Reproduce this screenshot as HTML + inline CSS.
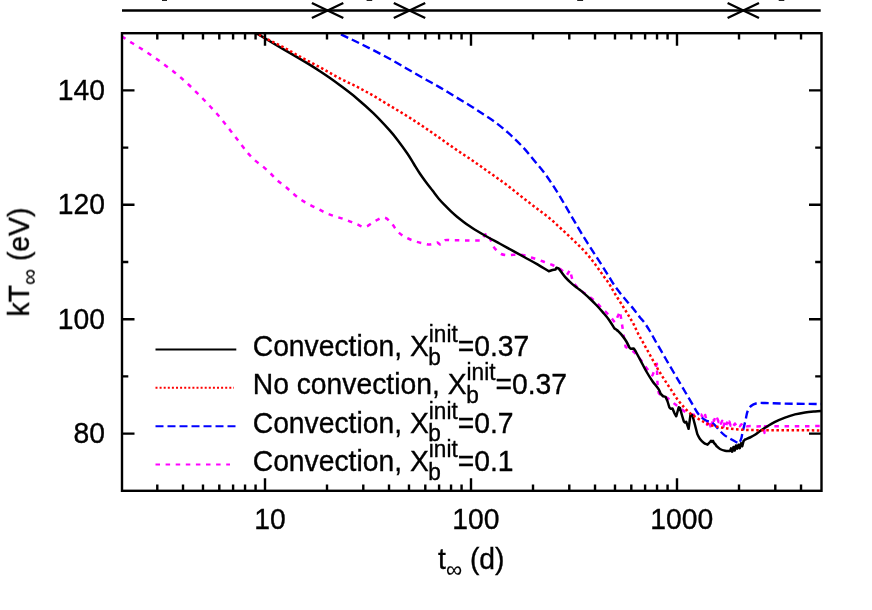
<!DOCTYPE html>
<html><head><meta charset="utf-8"><title>plot</title>
<style>
html,body{margin:0;padding:0;background:#fff;}
svg{display:block;}
text{font-family:"Liberation Sans",sans-serif;fill:#000;stroke:#000;stroke-width:0.35px;}
</style></head><body>
<svg width="872" height="610" viewBox="0 0 872 610">
<rect width="872" height="610" fill="#fff"/>
<defs><clipPath id="c"><rect x="122.0" y="33.2" width="699.5" height="457.6"/></clipPath></defs>
<!-- top arrow line -->
<g stroke="#000" stroke-width="2.4" fill="none">
<path d="M122,10.5 H820.7"/>
<path d="M311.9,3 L343.3,18 M311.9,18 L343.3,3"/>
<path d="M393.8,3 L425.2,18 M393.8,18 L425.2,3"/>
<path d="M727.6,3 L759,18 M727.6,18 L759,3"/>
</g>
<g fill="#222">
<rect x="162" y="0" width="5" height="1"/>
<rect x="366.6" y="0" width="5.6" height="1"/>
<rect x="577.2" y="0" width="5.9" height="1"/>
<rect x="778.7" y="0" width="5.6" height="1"/>
</g>
<!-- curves -->
<g clip-path="url(#c)" fill="none" stroke-linejoin="round">
<path d="M121.70,36.30 C125.13,38.53 128.54,40.81 132.00,43.00 C134.81,44.78 137.69,46.42 140.50,48.20 C143.36,50.01 146.18,51.88 149.00,53.75 C151.81,55.61 154.65,57.45 157.40,59.40 C160.12,61.33 162.73,63.40 165.40,65.40 C168.07,67.40 170.79,69.33 173.40,71.40 C176.09,73.53 178.71,75.75 181.30,78.00 C183.83,80.20 186.32,82.45 188.75,84.75 C191.22,87.08 193.59,89.51 196.00,91.90 C198.37,94.26 200.76,96.60 203.10,99.00 C205.43,101.39 207.72,103.81 210.00,106.25 C212.32,108.73 214.67,111.19 216.90,113.75 C219.03,116.19 221.06,118.73 223.10,121.25 C225.29,123.95 227.46,126.66 229.60,129.40 C231.69,132.08 233.73,134.80 235.80,137.50 C237.83,140.14 239.86,142.77 241.90,145.40 C243.96,148.07 245.88,150.86 248.10,153.40 C250.26,155.87 252.54,158.24 255.00,160.40 C257.55,162.65 260.50,164.41 263.10,166.60 C265.70,168.78 268.16,171.13 270.60,173.50 C272.97,175.80 275.03,178.41 277.50,180.60 C279.98,182.79 282.85,184.49 285.40,186.60 C288.06,188.80 290.46,191.28 293.10,193.50 C295.67,195.66 298.22,197.87 301.00,199.75 C303.78,201.63 306.79,203.16 309.75,204.75 C312.79,206.38 315.92,207.84 319.00,209.40 C321.84,210.84 324.53,212.60 327.50,213.75 C333.22,215.97 339.22,217.43 345.00,219.50 C349.22,221.01 353.30,222.92 357.50,224.50 C359.97,225.43 362.40,227.40 365.00,227.00 C368.32,226.49 370.75,223.52 373.75,222.00 C377.01,220.35 380.10,217.29 383.75,217.50 C386.85,217.68 389.06,220.81 391.25,223.00 C393.69,225.44 395.08,228.79 397.50,231.25 C399.71,233.50 402.26,235.44 405.00,237.00 C408.14,238.80 411.57,240.09 415.00,241.25 C418.26,242.35 421.64,243.02 425.00,243.75 C426.65,244.11 428.32,244.67 430.00,244.50 C432.57,244.24 435.00,243.17 437.50,242.50 L440.00,244.50 C441.67,243.07 442.94,240.98 445.00,240.20 C446.95,239.46 449.17,240.23 451.25,240.25 C461.25,240.36 471.25,240.48 481.25,240.60 L486.25,233.10 C487.50,234.98 488.92,236.76 490.00,238.75 C491.43,241.38 492.30,244.29 493.75,246.90 C494.39,248.06 495.29,249.09 496.25,250.00 C497.80,251.47 499.32,253.10 501.25,254.00 C503.18,254.90 505.38,255.12 507.50,255.25 C509.59,255.38 511.66,254.78 513.75,254.75 C516.67,254.70 519.62,254.55 522.50,255.00 C525.50,255.47 528.35,256.60 531.25,257.50 C535.02,258.68 538.77,259.93 542.50,261.25 C545.86,262.43 549.25,263.54 552.50,265.00 C555.30,266.26 558.08,267.65 560.60,269.40 C562.91,271.00 564.80,273.13 566.90,275.00 L570.00,270.00 C571.03,273.75 571.52,277.70 573.10,281.25 C574.23,283.79 576.03,286.03 578.00,288.00 C580.46,290.46 583.49,292.28 586.25,294.40 C588.96,296.48 591.83,298.35 594.40,300.60 C596.84,302.73 598.96,305.20 601.25,307.50 C603.75,310.00 606.36,312.39 608.75,315.00 C610.95,317.40 612.92,320.00 615.00,322.50 L620.00,311.30 C620.83,316.70 621.69,322.10 622.50,327.50 C622.94,330.41 623.29,333.34 623.75,336.25 C624.32,339.81 624.98,343.35 625.60,346.90 C628.32,348.57 631.35,349.80 633.75,351.90 C636.63,354.42 638.88,357.59 641.25,360.60 C643.06,362.90 644.48,365.47 646.25,367.80 C648.23,370.41 650.42,372.87 652.50,375.40 L656.90,363.75 C657.10,370.20 657.09,376.66 657.50,383.10 C657.71,386.45 658.33,389.77 658.75,393.10 C659.37,393.73 659.83,394.56 660.60,395.00 C662.79,396.25 665.37,396.75 667.50,398.10 C670.01,399.69 672.06,401.92 674.40,403.75 C675.81,404.85 677.31,405.84 678.75,406.90 C681.26,408.75 683.48,411.06 686.25,412.50 C688.64,413.74 691.33,414.46 694.00,414.80 C696.40,415.10 698.83,414.53 701.25,414.40 L702.20,416.80 L703.20,414.30 L704.20,417.30 L705.20,415.00 L706.00,418.30 L707.00,424.80 L708.00,419.50 L709.50,423.00 L711.50,429.40 L713.00,417.50 L714.00,420.80 L715.00,418.00 L716.20,421.20 L717.40,418.60 L718.60,422.00 L719.80,419.60 L721.00,423.60 L722.20,420.80 L723.40,426.80 L724.60,422.40 L725.80,426.40 L727.00,422.60 L728.20,425.80 L729.40,421.60 L730.60,425.60 L732.00,423.20 L733.40,425.80 L735.00,423.60 L736.60,426.00 L738.20,424.00 L739.80,426.20 L741.40,424.20 L743.00,426.20 L744.60,424.60 L746.50,426.30 C748.00,426.20 749.50,425.98 751.00,426.00 C752.34,426.02 753.66,426.38 755.00,426.40 C758.00,426.45 761.00,426.27 764.00,426.20 L764.50,433.00 L765.00,426.20 C767.33,426.23 769.67,426.30 772.00,426.30 C788.33,426.27 804.67,426.16 821.00,426.10 C822.67,426.09 824.33,426.10 826.00,426.10" stroke="#f0f" stroke-width="2.5" stroke-dasharray="4.5 5.7"/>
<path d="M330.00,29.50 C332.67,30.67 335.37,31.76 338.00,33.00 C346.37,36.93 354.73,40.88 363.00,45.00 C371.46,49.21 379.88,53.51 388.20,58.00 C394.39,61.34 400.40,65.00 406.50,68.50 C412.03,71.67 417.56,74.85 423.10,78.00 C428.66,81.15 434.28,84.18 439.80,87.40 C445.38,90.65 450.87,94.07 456.40,97.40 C461.93,100.73 467.52,103.98 473.00,107.40 C476.39,109.51 479.67,111.79 483.00,114.00 C487.01,116.66 491.15,119.12 495.00,122.00 C499.49,125.36 503.83,128.95 508.00,132.70 C513.17,137.35 518.23,142.14 523.00,147.20 C526.82,151.25 530.20,155.71 533.75,160.00 C537.53,164.57 541.50,169.01 545.00,173.80 C549.42,179.85 553.52,186.14 557.50,192.50 C561.86,199.47 565.83,206.67 570.00,213.75 C574.17,220.83 578.21,227.99 582.50,235.00 C586.75,241.94 591.21,248.75 595.60,255.60 C597.88,259.16 600.23,262.68 602.50,266.25 C604.61,269.57 606.67,272.92 608.75,276.25 C610.83,279.58 612.77,283.01 615.00,286.25 C616.94,289.07 619.11,291.73 621.25,294.40 C623.28,296.94 625.40,299.41 627.50,301.90 C629.57,304.35 631.75,306.70 633.75,309.20 C635.92,311.90 637.84,314.79 640.00,317.50 C641.18,318.98 642.64,320.22 643.75,321.75 C645.98,324.82 648.04,328.00 650.00,331.25 C652.21,334.92 654.12,338.78 656.25,342.50 C658.29,346.06 660.44,349.55 662.50,353.10 C664.19,356.02 665.81,358.98 667.50,361.90 C669.56,365.45 671.67,368.97 673.75,372.50 C675.83,376.03 677.92,379.56 680.00,383.10 C682.09,386.65 684.17,390.20 686.25,393.75 C688.33,397.30 690.38,400.87 692.50,404.40 C694.54,407.79 696.27,411.41 698.75,414.50 C700.49,416.67 702.65,418.53 705.00,420.00 C707.29,421.43 710.23,421.63 712.50,423.10 C714.48,424.38 715.87,426.40 717.50,428.10 C718.71,429.36 719.76,430.76 721.00,432.00 C722.27,433.27 723.55,434.55 725.00,435.60 C726.56,436.73 728.33,437.53 730.00,438.50 C732.00,439.66 733.95,440.93 736.00,442.00 C737.09,442.57 738.27,442.93 739.40,443.40 C740.07,441.60 740.87,439.85 741.40,438.00 C741.91,436.20 742.08,434.32 742.50,432.50 C743.48,428.32 744.61,424.18 745.60,420.00 C746.27,417.18 746.46,414.21 747.50,411.50 C748.28,409.47 749.36,407.43 751.00,406.00 C752.66,404.55 754.84,403.66 757.00,403.20 C759.61,402.64 762.33,402.96 765.00,403.00 C771.67,403.10 778.33,403.48 785.00,403.60 C797.00,403.81 809.00,403.88 821.00,404.00 C822.67,404.02 824.33,404.00 826.00,404.00" stroke="#00f" stroke-width="2.4" stroke-dasharray="8 4"/>
<path d="M248.00,28.10 C250.83,29.80 253.67,31.49 256.50,33.20 C259.41,34.96 262.28,36.77 265.20,38.50 C271.05,41.97 276.94,45.36 282.80,48.80 C288.54,52.16 294.28,55.51 300.00,58.90 C303.35,60.88 306.69,62.86 310.00,64.90 C313.59,67.12 317.16,69.38 320.70,71.70 C323.83,73.75 326.94,75.85 330.00,78.00 C333.24,80.28 336.45,82.60 339.60,85.00 C345.31,89.34 351.10,93.60 356.60,98.20 C362.34,103.00 367.95,107.97 373.30,113.20 C379.05,118.82 384.51,124.73 389.90,130.70 C392.58,133.67 395.07,136.82 397.50,140.00 C400.94,144.50 404.30,149.07 407.50,153.75 C409.72,156.99 411.67,160.42 413.75,163.75 C415.83,167.08 417.82,170.48 420.00,173.75 C421.99,176.73 424.11,179.62 426.25,182.50 C428.28,185.24 430.42,187.90 432.50,190.60 C434.58,193.30 436.55,196.09 438.75,198.70 C440.72,201.03 442.87,203.21 445.00,205.40 C447.04,207.51 449.11,209.59 451.25,211.60 C453.12,213.36 455.03,215.06 457.00,216.70 C458.95,218.33 460.98,219.86 463.00,221.40 C464.98,222.90 466.97,224.38 469.00,225.80 C470.97,227.18 472.94,228.56 475.00,229.80 C479.11,232.29 483.30,234.66 487.50,237.00 C491.64,239.31 495.84,241.49 500.00,243.75 C504.17,246.02 508.34,248.31 512.50,250.60 C516.67,252.89 520.83,255.20 525.00,257.50 C529.17,259.80 533.38,262.02 537.50,264.40 C541.30,266.59 545.00,268.93 548.75,271.20 L552.50,270.00 L555.40,269.60 L556.40,267.80 L558.75,268.50 C560.83,271.30 562.73,274.25 565.00,276.90 C566.91,279.13 569.06,281.14 571.25,283.10 C573.24,284.88 575.42,286.43 577.50,288.10 C579.58,289.77 581.72,291.37 583.75,293.10 C585.89,294.92 587.97,296.81 590.00,298.75 C592.13,300.78 594.22,302.86 596.25,305.00 C598.39,307.25 600.47,309.56 602.50,311.90 C604.63,314.36 606.85,316.76 608.75,319.40 C610.82,322.27 612.52,325.40 614.40,328.40 L616.90,330.00 C618.35,331.47 619.93,332.81 621.25,334.40 C623.06,336.57 624.76,338.85 626.25,341.25 C627.48,343.23 628.35,345.42 629.40,347.50 L630.60,348.75 L633.75,348.40 L635.60,351.25 C637.17,354.17 638.74,357.08 640.30,360.00 C642.29,363.74 644.14,367.57 646.25,371.25 C648.21,374.66 650.27,378.01 652.50,381.25 C654.44,384.07 656.89,386.53 658.75,389.40 C659.61,390.72 659.98,392.30 660.60,393.75 L663.10,396.25 L665.60,396.90 L667.50,401.25 L669.40,407.50 L670.60,408.75 L672.50,408.50 L674.40,413.10 L676.25,416.25 L678.75,407.25 L680.00,408.10 L681.90,415.00 L683.75,421.25 L685.00,422.50 L686.25,421.90 L688.60,428.80 L690.60,413.90 L692.50,415.50 L695.00,425.00 L697.30,434.00 C698.20,435.67 698.87,437.48 700.00,439.00 C701.13,440.51 702.50,441.86 704.00,443.00 C705.03,443.78 706.33,444.13 707.50,444.70 L710.00,442.00 L711.00,440.80 L712.00,441.80 L713.00,440.80 L714.00,443.00 L715.50,444.50 C716.00,445.17 716.41,445.91 717.00,446.50 C717.92,447.42 718.85,448.39 720.00,449.00 C721.56,449.82 723.28,450.34 725.00,450.70 C726.64,451.04 728.33,450.97 730.00,451.10 L731.00,448.36 L732.25,451.70 L733.50,446.94 L734.75,450.48 L736.00,445.40 L737.25,448.65 L738.50,444.73 L739.75,448.14 L741.00,443.20 L742.25,446.25 L743.50,441.18 L745.00,439.50 C746.67,438.83 748.38,438.26 750.00,437.50 C751.71,436.69 753.41,435.83 755.00,434.80 C756.76,433.66 758.29,432.20 760.00,431.00 C761.62,429.87 763.31,428.83 765.00,427.80 C768.31,425.79 771.55,423.66 775.00,421.90 C778.23,420.25 781.60,418.87 785.00,417.60 C788.28,416.37 791.61,415.28 795.00,414.40 C798.29,413.54 801.64,412.90 805.00,412.40 C808.31,411.90 811.66,411.67 815.00,411.40 C817.00,411.24 819.00,411.17 821.00,411.10 C822.67,411.04 824.33,411.03 826.00,411.00" stroke="#000" stroke-width="2.5"/>
<path d="M250.00,29.60 C252.53,30.97 255.07,32.32 257.60,33.70 C261.81,35.99 265.96,38.38 270.20,40.60 C274.36,42.78 278.66,44.68 282.80,46.90 C289.20,50.34 295.43,54.10 301.80,57.60 C308.06,61.04 314.43,64.27 320.70,67.70 C327.04,71.17 333.21,74.94 339.60,78.30 C345.18,81.24 351.00,83.71 356.60,86.60 C362.23,89.51 367.80,92.55 373.30,95.70 C378.90,98.91 384.37,102.37 389.90,105.70 C395.43,109.03 401.03,112.27 406.50,115.70 C412.09,119.20 417.62,122.82 423.10,126.50 C428.72,130.28 434.25,134.21 439.80,138.10 C445.35,141.98 450.82,145.97 456.40,149.80 C461.35,153.20 466.45,156.40 471.40,159.80 C476.98,163.63 482.48,167.59 488.00,171.50 C493.68,175.52 499.44,179.42 505.00,183.60 C511.36,188.39 517.48,193.50 523.75,198.40 C528.31,201.96 532.91,205.47 537.50,209.00 C541.66,212.20 545.94,215.26 550.00,218.60 C553.03,221.10 555.86,223.84 558.75,226.50 C562.53,229.97 566.27,233.48 570.00,237.00 C573.36,240.18 576.74,243.32 580.00,246.60 C582.58,249.19 585.14,251.81 587.50,254.60 C590.56,258.22 593.41,262.01 596.25,265.80 C598.41,268.68 600.40,271.68 602.50,274.60 C604.57,277.48 606.81,280.23 608.75,283.20 C610.98,286.62 612.88,290.26 615.00,293.75 C617.04,297.11 619.17,300.42 621.25,303.75 C623.33,307.08 625.46,310.39 627.50,313.75 C629.63,317.27 631.81,320.77 633.75,324.40 C635.15,327.03 636.13,329.86 637.50,332.50 C639.47,336.31 641.67,340.00 643.75,343.75 C645.83,347.50 647.92,351.25 650.00,355.00 C652.08,358.75 654.15,362.51 656.25,366.25 C657.07,367.71 657.88,369.17 658.75,370.60 C660.80,373.96 662.87,377.30 665.00,380.60 C667.04,383.76 669.17,386.87 671.25,390.00 C673.33,393.13 675.26,396.37 677.50,399.40 C679.44,402.02 681.56,404.50 683.75,406.90 C685.73,409.07 687.76,411.20 690.00,413.10 C691.94,414.75 694.12,416.11 696.25,417.50 C698.29,418.83 700.37,420.08 702.50,421.25 C704.54,422.38 706.58,423.53 708.75,424.40 C710.77,425.21 712.88,425.77 715.00,426.25 C718.31,427.00 721.65,427.61 725.00,428.10 C728.32,428.59 731.66,428.93 735.00,429.20 C739.58,429.57 744.16,429.88 748.75,430.00 C756.50,430.21 764.25,430.16 772.00,430.20 C788.33,430.29 804.67,430.34 821.00,430.40 C822.67,430.41 824.33,430.40 826.00,430.40" stroke="#f00" stroke-width="2.5" stroke-dasharray="2.5 2.55"/>
</g>
<!-- frame & ticks -->
<g stroke="#000" stroke-width="2.4" fill="none">
<rect x="122.0" y="33.2" width="699.5" height="457.6"/>
<path d="M157.29,490.8 v-6.3 M157.29,33.2 v6.3 M183.02,490.8 v-6.3 M183.02,33.2 v6.3 M202.99,490.8 v-6.3 M202.99,33.2 v6.3 M219.30,490.8 v-6.3 M219.30,33.2 v6.3 M233.09,490.8 v-6.3 M233.09,33.2 v6.3 M245.04,490.8 v-6.3 M245.04,33.2 v6.3 M255.57,490.8 v-6.3 M255.57,33.2 v6.3 M265.00,490.8 v-12.5 M265.00,33.2 v12.5 M327.01,490.8 v-6.3 M327.01,33.2 v6.3 M363.29,490.8 v-6.3 M363.29,33.2 v6.3 M389.02,490.8 v-6.3 M389.02,33.2 v6.3 M408.99,490.8 v-6.3 M408.99,33.2 v6.3 M425.30,490.8 v-6.3 M425.30,33.2 v6.3 M439.09,490.8 v-6.3 M439.09,33.2 v6.3 M451.04,490.8 v-6.3 M451.04,33.2 v6.3 M461.57,490.8 v-6.3 M461.57,33.2 v6.3 M471.00,490.8 v-12.5 M471.00,33.2 v12.5 M533.01,490.8 v-6.3 M533.01,33.2 v6.3 M569.29,490.8 v-6.3 M569.29,33.2 v6.3 M595.02,490.8 v-6.3 M595.02,33.2 v6.3 M614.99,490.8 v-6.3 M614.99,33.2 v6.3 M631.30,490.8 v-6.3 M631.30,33.2 v6.3 M645.09,490.8 v-6.3 M645.09,33.2 v6.3 M657.04,490.8 v-6.3 M657.04,33.2 v6.3 M667.57,490.8 v-6.3 M667.57,33.2 v6.3 M677.00,490.8 v-12.5 M677.00,33.2 v12.5 M739.01,490.8 v-6.3 M739.01,33.2 v6.3 M775.29,490.8 v-6.3 M775.29,33.2 v6.3 M801.02,490.8 v-6.3 M801.02,33.2 v6.3 M122.0,433.60 h12.5 M821.5,433.60 h-12.5 M122.0,376.40 h6.3 M821.5,376.40 h-6.3 M122.0,319.20 h12.5 M821.5,319.20 h-12.5 M122.0,262.00 h6.3 M821.5,262.00 h-6.3 M122.0,204.80 h12.5 M821.5,204.80 h-12.5 M122.0,147.60 h6.3 M821.5,147.60 h-6.3 M122.0,90.40 h12.5 M821.5,90.40 h-12.5"/>
</g>
<g opacity="0.999">
<!-- tick labels -->
<g font-size="28.3" text-anchor="end">
<text transform="translate(105,99.8) scale(1,1.06)">140</text>
<text transform="translate(105,214.3) scale(1,1.06)">120</text>
<text transform="translate(105,328.8) scale(1,1.06)">100</text>
<text transform="translate(105,443.3) scale(1,1.06)">80</text>
</g>
<g font-size="28.3" text-anchor="start">
<text transform="translate(254.3,529.2) scale(1,1.06)">10</text>
<text transform="translate(452.3,529.2) scale(1,1.06)">100</text>
<text transform="translate(650.3,529.2) scale(1,1.06)">1000</text>
</g>
<!-- axis labels -->
<g font-size="28.3" transform="translate(438,569)">
<text transform="scale(1,1.05)">t</text>
<text x="7.9" y="7.9" font-size="22.64" style="stroke-width:0.1px">∞</text>
<text transform="translate(31.9,0) scale(1,1.05)">(d)</text>
</g>
<g font-size="28.3" transform="translate(28.9,316.5) rotate(-90)">
<text transform="scale(1,1.05)">kT</text>
<text x="31.5" y="7.9" font-size="22.64" style="stroke-width:0.1px">∞</text>
<text transform="translate(55.4,0) scale(1,1.05)">(eV)</text>
</g>
<!-- legend -->
<g fill="none" stroke-width="2">
<path d="M155.5,349.5 H236.3" stroke="#000"/>
<path d="M155.5,387.8 H234" stroke="#f00" stroke-dasharray="2 2.1"/>
<path d="M155.5,426.2 H236.3" stroke="#00f" stroke-dasharray="8 4"/>
<path d="M155.5,464.5 H230" stroke="#f0f" stroke-dasharray="4.5 5.6"/>
</g>
<g font-size="28.3">
<text transform="translate(252.7,355.9) scale(1,1.05)">Convection, X<tspan font-size="22.64" dy="-13.24">init</tspan><tspan dy="13.24">=0.37</tspan></text>
<text transform="translate(428.2,364.7) scale(1,1.05)" font-size="22.64">b</text>
<text transform="translate(252.7,394.2) scale(1,1.05)">No convection, X<tspan font-size="22.64" dy="-13.24">init</tspan><tspan dy="13.24">=0.37</tspan></text>
<text transform="translate(466.2,403.0) scale(1,1.05)" font-size="22.64">b</text>
<text transform="translate(252.7,432.5) scale(1,1.05)">Convection, X<tspan font-size="22.64" dy="-13.24">init</tspan><tspan dy="13.24">=0.7</tspan></text>
<text transform="translate(428.2,441.3) scale(1,1.05)" font-size="22.64">b</text>
<text transform="translate(252.7,470.8) scale(1,1.05)">Convection, X<tspan font-size="22.64" dy="-13.24">init</tspan><tspan dy="13.24">=0.1</tspan></text>
<text transform="translate(428.2,479.6) scale(1,1.05)" font-size="22.64">b</text>
</g>
</g>
</svg>
</body></html>
